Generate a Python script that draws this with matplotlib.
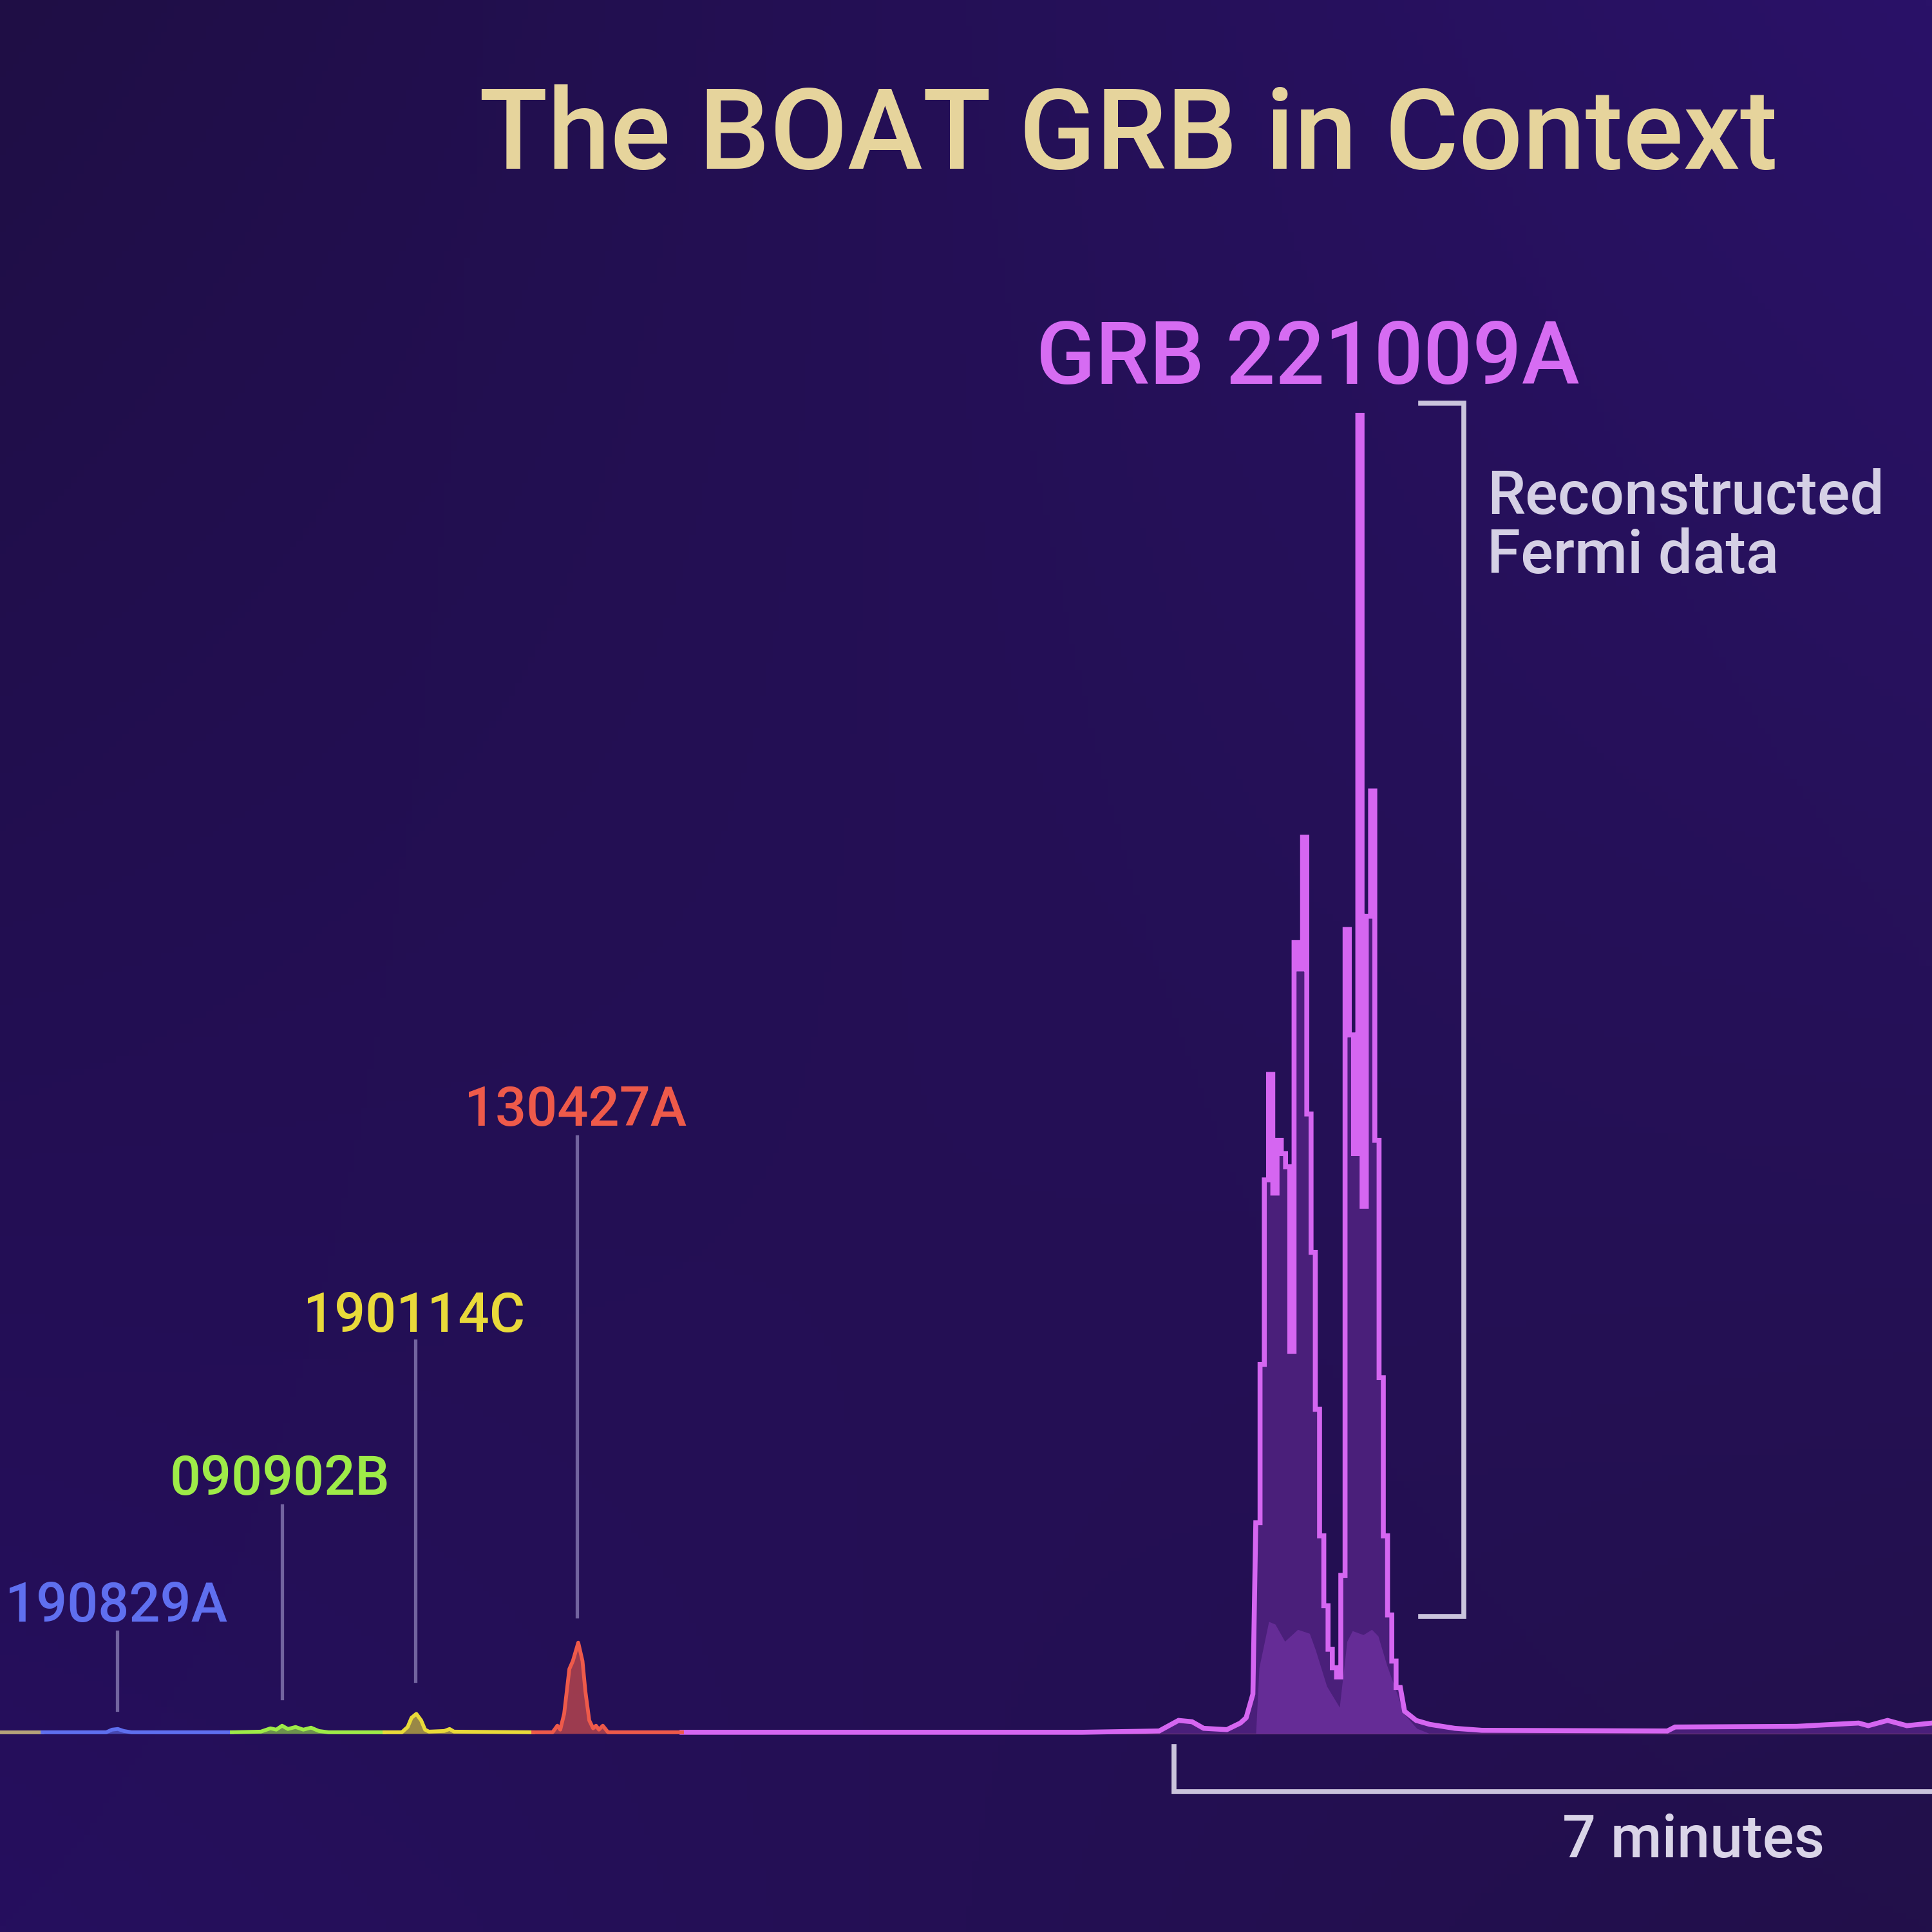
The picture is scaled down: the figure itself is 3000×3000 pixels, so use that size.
import numpy as np
import matplotlib.pyplot as plt
from matplotlib.colors import to_rgb

# time axis in seconds, rate in arbitrary units (peak of 221009A ~ 100)
# older bursts, each drawn over its own stretch of the baseline
burst_names = ['190829A', '090902B', '190114C', '130427A']
burst_colors = ['#5F6FEF', '#9EEB48', '#E9DA3A', '#EE5A4A']
burst_t = [
    [22, 55, 58, 61, 64, 68, 120],
    [120, 135, 140, 143, 146, 149, 153, 157, 161, 165, 170, 199],
    [199, 208, 211, 213, 215.5, 218, 220, 222, 230, 232.7, 235, 276],
    [276, 286, 288.5, 290, 292, 294.7, 296.5, 299.3, 301.5, 303, 305, 307, 308.5, 310, 312, 314.7, 353],
]
burst_v = [
    [0.1, 0.1, 0.3, 0.35, 0.2, 0.1, 0.1],
    [0.1, 0.15, 0.4, 0.3, 0.6, 0.35, 0.5, 0.3, 0.45, 0.2, 0.1, 0.1],
    [0.1, 0.1, 0.5, 1.2, 1.5, 1.0, 0.3, 0.15, 0.2, 0.35, 0.15, 0.1],
    [0.1, 0.1, 0.6, 0.3, 1.5, 4.9, 5.5, 6.9, 5.5, 3.2, 1.0, 0.4, 0.6, 0.3, 0.6, 0.1, 0.1],
]
# label anchor (time, baseline height) and pointer line (time, bottom, top)
label_pos = [(60.2, 8.5), (144.7, 18.1), (214.3, 30.5), (297.7, 46.1)]
pointer = [(60.7, 1.8, 7.7), (146, 2.7, 17.3), (215, 4.0, 29.8), (298.5, 8.9, 45.3)]

# unlabelled segment at the far left
lead_t = [0, 22]
lead_v = [0.1, 0.1]

# GRB 221009A: quiet lead-in, binned main emission, tail
boat_pre_t = [353, 560, 600, 605, 610, 617, 623, 635, 642, 645, 648.5]
boat_pre_v = [0.1, 0.1, 0.2, 0.6, 1.0, 0.9, 0.4, 0.3, 0.8, 1.2, 3.0]
bin_start = 650.0
bin_width = 2.2
boat_bins = [16, 28, 42, 50, 41, 45, 44, 43, 29, 60, 58, 68, 47, 36.5, 24.6, 15, 9.7,
             6.4, 5, 4.3, 12, 61, 53, 44, 100, 40, 62, 71.5, 45, 27, 15, 9, 5.5, 3.5]
boat_post_t = [727, 733, 740, 753, 767, 863, 867, 930, 962, 967, 977, 987, 1000]
boat_post_v = [1.7, 1.0, 0.7, 0.4, 0.25, 0.2, 0.5, 0.55, 0.8, 0.6, 1.0, 0.6, 0.8]

# saturated original Fermi curve under the reconstruction
fermi_t = [650, 651.7, 656.7, 660, 665, 671.7, 677.8, 681, 686.7, 693.3, 697.2, 700,
           705.6, 710, 713.3, 717.8, 722.2, 726.7, 733.3, 740]
fermi_v = [0, 5, 8.5, 8.3, 7.0, 7.9, 7.6, 6.3, 3.6, 2.0, 7.0, 7.8, 7.5, 7.9, 7.4,
           5.2, 3.4, 1.5, 0.4, 0]

minutes_start = 607.7
minutes_len = 7 * 60

boat_color = '#D566F1'
bracket_color = '#CAC4DC'
pointer_color = '#72649F'
font = ['Roboto', 'DejaVu Sans']

fig = plt.figure(figsize=(30, 30), dpi=100)

# background gradient
corners = np.array([[to_rgb('#1F0E45'), to_rgb('#2A1268')],
                    [to_rgb('#260F5E'), to_rgb('#22104A')]])
n = 300
u = np.linspace(0, 1, n)
xx, yy = np.meshgrid(u, u)
bg = ((1 - yy)[..., None] * ((1 - xx)[..., None] * corners[0, 0] + xx[..., None] * corners[0, 1])
      + yy[..., None] * ((1 - xx)[..., None] * corners[1, 0] + xx[..., None] * corners[1, 1]))
axbg = fig.add_axes([0, 0, 1, 1])
axbg.imshow(bg, aspect='auto', extent=[0, 1, 0, 1], origin='upper')
axbg.axis('off')

ax = fig.add_axes([0, 0, 1, 1])
ax.patch.set_alpha(0)
ax.set_xlim(0, 1000)
ax.set_ylim(-15.05, 131.5)
ax.axis('off')

# 221009A curve
edges = bin_start + bin_width * np.arange(len(boat_bins) + 1)
step_t = np.repeat(edges, 2)[1:-1]
step_v = np.repeat(boat_bins, 2)
boat_t = np.concatenate([boat_pre_t, step_t, boat_post_t])
boat_v = np.concatenate([boat_pre_v, step_v, boat_post_v])
ax.plot([boat_pre_t[0], 1000], [0, 0], color='#A8586A', lw=1.5, zorder=2)
ax.fill_between(boat_t, 0, boat_v, color='#4A1F7A', lw=0, zorder=2)
ax.fill_between(fermi_t, 0, fermi_v, color='#652C96', lw=0, zorder=3)
ax.plot(boat_t, boat_v, color=boat_color, lw=5.5, solid_joinstyle='miter', zorder=4)

# older bursts
ax.plot(lead_t, lead_v, color='#B5A27A', lw=4.2, zorder=4)
for name, c, ts, vs, (lx, ly), (px, pb, pt) in zip(burst_names, burst_colors, burst_t,
                                                  burst_v, label_pos, pointer):
    ax.fill_between(ts, 0, vs, color=c, alpha=0.6, lw=0, zorder=3)
    ax.plot(ts, vs, color=c, lw=4.2, zorder=4)
    ax.plot([px, px], [pb, pt], color=pointer_color, lw=3.8, zorder=3)
    ax.text(lx, ly, name, color=c, fontsize=61, fontweight='medium', family=font,
            ha='center', va='baseline')

ax.text(677, 102.4, 'GRB 221009A', color='#D66CF2', fontsize=97, fontweight='medium',
        family=font, ha='center', va='baseline')

# bracket for the reconstructed part
ax.plot([735.3, 757.7, 757.7, 735.3], [100.9, 100.9, 8.9, 8.9], color=bracket_color,
        lw=5.5, solid_joinstyle='miter', zorder=3)
ax.text(769.7, 92.5, 'Reconstructed', color='#D5D0E5', fontsize=68, family=font,
        fontweight='medium', ha='left', va='baseline')
ax.text(769.7, 88.0, 'Fermi data', color='#D5D0E5', fontsize=68, family=font,
        fontweight='medium', ha='left', va='baseline')

# 7 minute scale bar
ax.plot([minutes_start, minutes_start, minutes_start + minutes_len], [-1.0, -4.4, -4.4],
        color=bracket_color, lw=5.5, solid_joinstyle='miter', clip_on=False, zorder=3)
ax.text(876.7, -9.4, '7 minutes', color='#DAD5E8', fontsize=66, family=font,
        fontweight='medium', ha='center', va='baseline')

fig.text(0.584, 0.9127, 'The BOAT GRB in Context', color='#E6D49C', fontsize=126,
         fontweight='medium', family=font, ha='center', va='baseline')

fig.savefig('out.png', dpi=100)
